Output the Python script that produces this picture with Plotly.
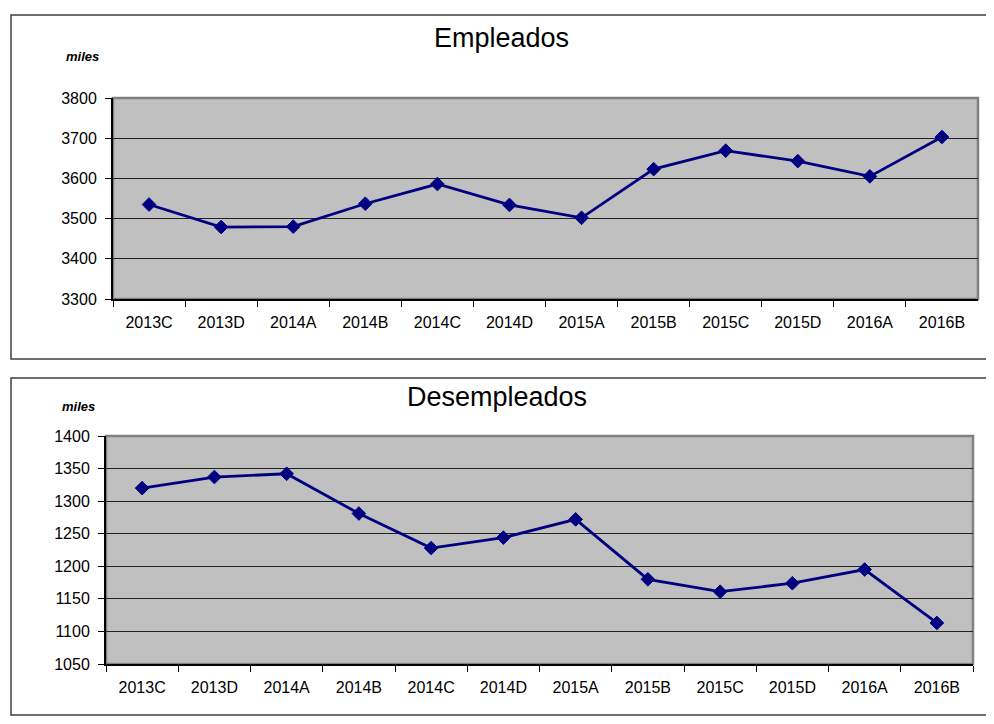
import plotly.graph_objects as go

categories = ["2013C", "2013D", "2014A", "2014B", "2014C", "2014D",
              "2015A", "2015B", "2015C", "2015D", "2016A", "2016B"]
empleados = [3535, 3479, 3480, 3537, 3586, 3534, 3502, 3623, 3669, 3643, 3605, 3703]
desempleados = [1320, 1337, 1342, 1281, 1228, 1244, 1272, 1180, 1161, 1174, 1195, 1113]

titles = ["Empleados", "Desempleados"]
y_ranges = [[3300, 3800], [1050, 1400]]
y_dticks = [100, 50]

# figure size chosen so that it fits inside the 994x724 window with 8px body margin
W, H = 978, 708
OFF = 8
def px(x):
    return (x - OFF) / W
def py(y):
    return 1 - (y - OFF) / H

FONT = "Liberation Sans, Arial, sans-serif"
NAVY = "#000080"

fig = go.Figure()

for vals, xa, ya in [(empleados, "x", "y"), (desempleados, "x2", "y2")]:
    fig.add_trace(go.Scatter(x=categories, y=vals, mode="lines+markers",
                             line=dict(color=NAVY, width=2.8),
                             marker=dict(symbol="diamond", size=10.5, color=NAVY,
                                         line=dict(color=NAVY, width=1)),
                             xaxis=xa, yaxis=ya, showlegend=False))

xaxis_common = dict(type="category", range=[-0.5, 11.5], tickson="boundaries",
                    ticks="outside", ticklen=6, tickwidth=1, tickcolor="black",
                    showline=True, linecolor="black", linewidth=2,
                    showgrid=False, zeroline=False, automargin=False,
                    ticklabelstandoff=8,
                    tickfont=dict(family=FONT, size=16, color="black"))
yaxis_common = dict(ticks="outside", ticklen=6, tickwidth=1, tickcolor="black",
                    showline=True, linecolor="black", linewidth=2,
                    showgrid=True, gridcolor="#222222", gridwidth=1,
                    zeroline=False, automargin=False, ticklabelstandoff=5,
                    tickfont=dict(family=FONT, size=16, color="black"))

fig.update_layout(
    width=W, height=H, autosize=False,
    margin=dict(l=0, r=0, t=0, b=0, pad=0),
    paper_bgcolor="white", plot_bgcolor="rgba(0,0,0,0)",
    xaxis=dict(domain=[px(113), px(978)], anchor="y", **xaxis_common),
    yaxis=dict(domain=[py(299), py(98)], anchor="x", range=y_ranges[0],
               dtick=y_dticks[0], **yaxis_common),
    xaxis2=dict(domain=[px(106), px(973)], anchor="y2", **xaxis_common),
    yaxis2=dict(domain=[py(664), py(436)], anchor="x2", range=y_ranges[1],
                dtick=y_dticks[1], **yaxis_common),
)

shapes = []
# outer boxes
shapes.append(dict(type="rect", xref="paper", yref="paper",
                   x0=px(11), x1=px(1010), y0=py(359), y1=py(15),
                   line=dict(color="#404040", width=1.5), layer="below"))
shapes.append(dict(type="rect", xref="paper", yref="paper",
                   x0=px(11), x1=px(1010), y0=py(715), y1=py(378),
                   line=dict(color="#404040", width=1.5), layer="below"))
# plot areas
for xr, yr in [("x", "y"), ("x2", "y2")]:
    shapes.append(dict(type="rect", xref=xr + " domain", yref=yr + " domain",
                       x0=0, x1=1, y0=0, y1=1, fillcolor="#c0c0c0",
                       line=dict(color="#808080", width=2.5), layer="below"))
fig.update_layout(shapes=shapes)

annotations = [
    dict(text=titles[0], x=px(501), y=py(38), xref="paper", yref="paper",
         showarrow=False, font=dict(family=FONT, size=27, color="black"),
         xanchor="center", yanchor="middle"),
    dict(text=titles[1], x=px(497), y=py(397), xref="paper", yref="paper",
         showarrow=False, font=dict(family=FONT, size=27, color="black"),
         xanchor="center", yanchor="middle"),
    dict(text="<b><i>miles</i></b>", x=px(82), y=py(56), xref="paper", yref="paper",
         showarrow=False, font=dict(family=FONT, size=13, color="black"),
         xanchor="center", yanchor="middle"),
    dict(text="<b><i>miles</i></b>", x=px(78), y=py(406), xref="paper", yref="paper",
         showarrow=False, font=dict(family=FONT, size=13, color="black"),
         xanchor="center", yanchor="middle"),
]
fig.update_layout(annotations=annotations)

fig.write_html("out.html")
